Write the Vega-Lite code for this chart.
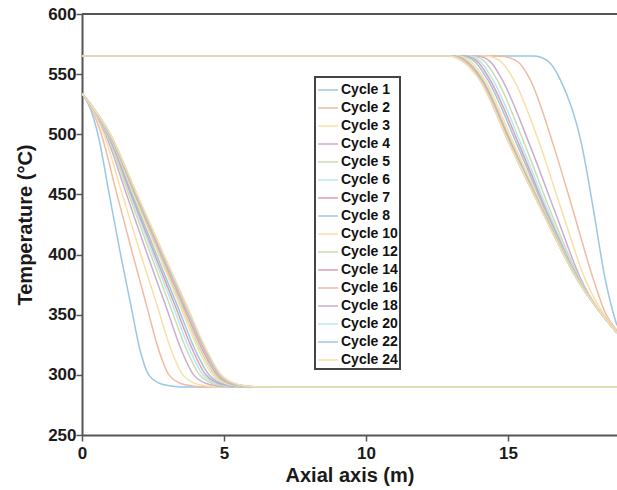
{
  "$schema": "https://vega.github.io/schema/vega-lite/v6.json",
  "width": 535,
  "height": 421,
  "autosize": {"type": "none"},
  "padding": {"left": 82, "top": 14, "right": 0, "bottom": 55},
  "background": "white",
  "config": {
    "view": {"stroke": null},
    "font": "Liberation Sans",
    "axis": {
      "grid": false,
      "domainColor": "#555555",
      "domainWidth": 2,
      "ticks": true,
      "tickColor": "#555555",
      "tickWidth": 1.5,
      "tickSize": 6,
      "labelFlush": false,
      "labelOverlap": false,
      "labelFont": "Liberation Sans",
      "labelFontWeight": "bold",
      "labelFontSize": 17,
      "labelColor": "#1a1a1a",
      "titleFont": "Liberation Sans",
      "titleFontWeight": "bold",
      "titleFontSize": 20,
      "titleColor": "#1a1a1a"
    },
    "legend": {"strokeWidth": 2}
  },
  "datasets": {
    "curves": [
      {"c":"Cycle 1","s":"d","x":0,"y":534},{"c":"Cycle 1","s":"d","x":0.3,"y":521},{"c":"Cycle 1","s":"d","x":0.56,"y":500},{"c":"Cycle 1","s":"d","x":0.96,"y":450},{"c":"Cycle 1","s":"d","x":1.36,"y":400},{"c":"Cycle 1","s":"d","x":1.72,"y":358},{"c":"Cycle 1","s":"d","x":2.05,"y":320},{"c":"Cycle 1","s":"d","x":2.35,"y":300},{"c":"Cycle 1","s":"d","x":2.85,"y":292},{"c":"Cycle 1","s":"d","x":3.5,"y":290},{"c":"Cycle 1","s":"d","x":18.84,"y":290},
      {"c":"Cycle 1","s":"c","x":0,"y":565},{"c":"Cycle 1","s":"c","x":15.9,"y":565},{"c":"Cycle 1","s":"c","x":16.4,"y":561},{"c":"Cycle 1","s":"c","x":16.83,"y":546},{"c":"Cycle 1","s":"c","x":17.6,"y":491},{"c":"Cycle 1","s":"c","x":18.02,"y":436},{"c":"Cycle 1","s":"c","x":18.42,"y":380},{"c":"Cycle 1","s":"c","x":18.7,"y":352},{"c":"Cycle 1","s":"c","x":18.84,"y":341},
      {"c":"Cycle 2","s":"d","x":0,"y":534},{"c":"Cycle 2","s":"d","x":0.3,"y":523},{"c":"Cycle 2","s":"d","x":0.68,"y":500},{"c":"Cycle 2","s":"d","x":1.23,"y":450},{"c":"Cycle 2","s":"d","x":1.79,"y":400},{"c":"Cycle 2","s":"d","x":2.27,"y":358},{"c":"Cycle 2","s":"d","x":2.71,"y":320},{"c":"Cycle 2","s":"d","x":3.06,"y":300},{"c":"Cycle 2","s":"d","x":3.59,"y":292},{"c":"Cycle 2","s":"d","x":4.26,"y":290},{"c":"Cycle 2","s":"d","x":18.84,"y":290},
      {"c":"Cycle 2","s":"c","x":0,"y":565},{"c":"Cycle 2","s":"c","x":14.7,"y":565},{"c":"Cycle 2","s":"c","x":15.3,"y":561},{"c":"Cycle 2","s":"c","x":15.77,"y":546},{"c":"Cycle 2","s":"c","x":16.6,"y":491},{"c":"Cycle 2","s":"c","x":17.3,"y":436},{"c":"Cycle 2","s":"c","x":18.0,"y":380},{"c":"Cycle 2","s":"c","x":18.42,"y":352},{"c":"Cycle 2","s":"c","x":18.84,"y":337},
      {"c":"Cycle 3","s":"d","x":0,"y":534},{"c":"Cycle 3","s":"d","x":0.3,"y":524},{"c":"Cycle 3","s":"d","x":0.77,"y":500},{"c":"Cycle 3","s":"d","x":1.42,"y":450},{"c":"Cycle 3","s":"d","x":2.07,"y":400},{"c":"Cycle 3","s":"d","x":2.64,"y":358},{"c":"Cycle 3","s":"d","x":3.15,"y":320},{"c":"Cycle 3","s":"d","x":3.55,"y":300},{"c":"Cycle 3","s":"d","x":4.1,"y":292},{"c":"Cycle 3","s":"d","x":4.77,"y":290},{"c":"Cycle 3","s":"d","x":18.84,"y":290},
      {"c":"Cycle 3","s":"c","x":0,"y":565},{"c":"Cycle 3","s":"c","x":14.2,"y":565},{"c":"Cycle 3","s":"c","x":14.72,"y":561},{"c":"Cycle 3","s":"c","x":15.19,"y":546},{"c":"Cycle 3","s":"c","x":16.13,"y":491},{"c":"Cycle 3","s":"c","x":16.9,"y":436},{"c":"Cycle 3","s":"c","x":17.71,"y":380},{"c":"Cycle 3","s":"c","x":18.84,"y":336},
      {"c":"Cycle 4","s":"d","x":0,"y":534},{"c":"Cycle 4","s":"d","x":0.3,"y":525},{"c":"Cycle 4","s":"d","x":0.83,"y":500},{"c":"Cycle 4","s":"d","x":1.57,"y":450},{"c":"Cycle 4","s":"d","x":2.3,"y":400},{"c":"Cycle 4","s":"d","x":2.94,"y":358},{"c":"Cycle 4","s":"d","x":3.51,"y":320},{"c":"Cycle 4","s":"d","x":3.93,"y":300},{"c":"Cycle 4","s":"d","x":4.49,"y":292},{"c":"Cycle 4","s":"d","x":5.17,"y":290},{"c":"Cycle 4","s":"d","x":18.84,"y":290},
      {"c":"Cycle 4","s":"c","x":0,"y":565},{"c":"Cycle 4","s":"c","x":13.9,"y":565},{"c":"Cycle 4","s":"c","x":14.35,"y":561},{"c":"Cycle 4","s":"c","x":14.78,"y":546},{"c":"Cycle 4","s":"c","x":15.77,"y":491},{"c":"Cycle 4","s":"c","x":16.65,"y":436},{"c":"Cycle 4","s":"c","x":17.56,"y":380},{"c":"Cycle 4","s":"c","x":18.84,"y":335},
      {"c":"Cycle 5","s":"d","x":0,"y":534},{"c":"Cycle 5","s":"d","x":0.3,"y":525},{"c":"Cycle 5","s":"d","x":0.87,"y":500},{"c":"Cycle 5","s":"d","x":1.65,"y":450},{"c":"Cycle 5","s":"d","x":2.42,"y":400},{"c":"Cycle 5","s":"d","x":3.09,"y":358},{"c":"Cycle 5","s":"d","x":3.7,"y":320},{"c":"Cycle 5","s":"d","x":4.14,"y":300},{"c":"Cycle 5","s":"d","x":4.71,"y":292},{"c":"Cycle 5","s":"d","x":5.39,"y":290},{"c":"Cycle 5","s":"d","x":18.84,"y":290},
      {"c":"Cycle 5","s":"c","x":0,"y":565},{"c":"Cycle 5","s":"c","x":13.7,"y":565},{"c":"Cycle 5","s":"c","x":14.15,"y":561},{"c":"Cycle 5","s":"c","x":14.6,"y":546},{"c":"Cycle 5","s":"c","x":15.6,"y":491},{"c":"Cycle 5","s":"c","x":16.5,"y":436},{"c":"Cycle 5","s":"c","x":17.52,"y":380},{"c":"Cycle 5","s":"c","x":18.84,"y":335},
      {"c":"Cycle 6","s":"d","x":0,"y":534},{"c":"Cycle 6","s":"d","x":0.3,"y":525},{"c":"Cycle 6","s":"d","x":0.89,"y":500},{"c":"Cycle 6","s":"d","x":1.7,"y":450},{"c":"Cycle 6","s":"d","x":2.5,"y":400},{"c":"Cycle 6","s":"d","x":3.19,"y":358},{"c":"Cycle 6","s":"d","x":3.81,"y":320},{"c":"Cycle 6","s":"d","x":4.26,"y":300},{"c":"Cycle 6","s":"d","x":4.84,"y":292},{"c":"Cycle 6","s":"d","x":5.53,"y":290},{"c":"Cycle 6","s":"d","x":18.84,"y":290},
      {"c":"Cycle 6","s":"c","x":0,"y":565},{"c":"Cycle 6","s":"c","x":13.55,"y":565},{"c":"Cycle 6","s":"c","x":14.0,"y":561},{"c":"Cycle 6","s":"c","x":14.45,"y":546},{"c":"Cycle 6","s":"c","x":15.48,"y":491},{"c":"Cycle 6","s":"c","x":16.42,"y":436},{"c":"Cycle 6","s":"c","x":17.49,"y":380},{"c":"Cycle 6","s":"c","x":18.84,"y":335},
      {"c":"Cycle 7","s":"d","x":0,"y":534},{"c":"Cycle 7","s":"d","x":0.3,"y":525},{"c":"Cycle 7","s":"d","x":0.91,"y":500},{"c":"Cycle 7","s":"d","x":1.73,"y":450},{"c":"Cycle 7","s":"d","x":2.56,"y":400},{"c":"Cycle 7","s":"d","x":3.27,"y":358},{"c":"Cycle 7","s":"d","x":3.91,"y":320},{"c":"Cycle 7","s":"d","x":4.36,"y":300},{"c":"Cycle 7","s":"d","x":4.94,"y":292},{"c":"Cycle 7","s":"d","x":5.63,"y":290},{"c":"Cycle 7","s":"d","x":18.84,"y":290},
      {"c":"Cycle 7","s":"c","x":0,"y":565},{"c":"Cycle 7","s":"c","x":13.45,"y":565},{"c":"Cycle 7","s":"c","x":13.9,"y":561},{"c":"Cycle 7","s":"c","x":14.35,"y":546},{"c":"Cycle 7","s":"c","x":15.4,"y":491},{"c":"Cycle 7","s":"c","x":16.36,"y":436},{"c":"Cycle 7","s":"c","x":17.47,"y":380},{"c":"Cycle 7","s":"c","x":18.84,"y":335},
      {"c":"Cycle 8","s":"d","x":0,"y":534},{"c":"Cycle 8","s":"d","x":0.3,"y":525},{"c":"Cycle 8","s":"d","x":0.93,"y":500},{"c":"Cycle 8","s":"d","x":1.77,"y":450},{"c":"Cycle 8","s":"d","x":2.62,"y":400},{"c":"Cycle 8","s":"d","x":3.35,"y":358},{"c":"Cycle 8","s":"d","x":4.0,"y":320},{"c":"Cycle 8","s":"d","x":4.47,"y":300},{"c":"Cycle 8","s":"d","x":5.05,"y":292},{"c":"Cycle 8","s":"d","x":5.74,"y":290},{"c":"Cycle 8","s":"d","x":18.84,"y":290},
      {"c":"Cycle 8","s":"c","x":0,"y":565},{"c":"Cycle 8","s":"c","x":13.35,"y":565},{"c":"Cycle 8","s":"c","x":13.8,"y":561},{"c":"Cycle 8","s":"c","x":14.27,"y":546},{"c":"Cycle 8","s":"c","x":15.33,"y":491},{"c":"Cycle 8","s":"c","x":16.32,"y":436},{"c":"Cycle 8","s":"c","x":17.46,"y":380},{"c":"Cycle 8","s":"c","x":18.84,"y":335},
      {"c":"Cycle 10","s":"d","x":0,"y":534},{"c":"Cycle 10","s":"d","x":0.3,"y":525},{"c":"Cycle 10","s":"d","x":0.95,"y":500},{"c":"Cycle 10","s":"d","x":1.82,"y":450},{"c":"Cycle 10","s":"d","x":2.7,"y":400},{"c":"Cycle 10","s":"d","x":3.44,"y":358},{"c":"Cycle 10","s":"d","x":4.12,"y":320},{"c":"Cycle 10","s":"d","x":4.59,"y":300},{"c":"Cycle 10","s":"d","x":5.18,"y":292},{"c":"Cycle 10","s":"d","x":5.88,"y":290},{"c":"Cycle 10","s":"d","x":18.84,"y":290},
      {"c":"Cycle 10","s":"c","x":0,"y":565},{"c":"Cycle 10","s":"c","x":13.22,"y":565},{"c":"Cycle 10","s":"c","x":13.67,"y":561},{"c":"Cycle 10","s":"c","x":14.17,"y":546},{"c":"Cycle 10","s":"c","x":15.23,"y":491},{"c":"Cycle 10","s":"c","x":16.28,"y":436},{"c":"Cycle 10","s":"c","x":17.45,"y":380},{"c":"Cycle 10","s":"c","x":18.84,"y":335},
      {"c":"Cycle 12","s":"d","x":0,"y":534},{"c":"Cycle 12","s":"d","x":0.3,"y":525},{"c":"Cycle 12","s":"d","x":0.96,"y":500},{"c":"Cycle 12","s":"d","x":1.85,"y":450},{"c":"Cycle 12","s":"d","x":2.74,"y":400},{"c":"Cycle 12","s":"d","x":3.5,"y":358},{"c":"Cycle 12","s":"d","x":4.19,"y":320},{"c":"Cycle 12","s":"d","x":4.67,"y":300},{"c":"Cycle 12","s":"d","x":5.26,"y":292},{"c":"Cycle 12","s":"d","x":5.96,"y":290},{"c":"Cycle 12","s":"d","x":18.84,"y":290},
      {"c":"Cycle 12","s":"c","x":0,"y":565},{"c":"Cycle 12","s":"c","x":13.12,"y":565},{"c":"Cycle 12","s":"c","x":13.57,"y":561},{"c":"Cycle 12","s":"c","x":14.1,"y":546},{"c":"Cycle 12","s":"c","x":15.17,"y":491},{"c":"Cycle 12","s":"c","x":16.26,"y":436},{"c":"Cycle 12","s":"c","x":17.44,"y":380},{"c":"Cycle 12","s":"c","x":18.84,"y":335},
      {"c":"Cycle 14","s":"d","x":0,"y":534},{"c":"Cycle 14","s":"d","x":0.3,"y":525},{"c":"Cycle 14","s":"d","x":0.97,"y":500},{"c":"Cycle 14","s":"d","x":1.88,"y":450},{"c":"Cycle 14","s":"d","x":2.79,"y":400},{"c":"Cycle 14","s":"d","x":3.56,"y":358},{"c":"Cycle 14","s":"d","x":4.26,"y":320},{"c":"Cycle 14","s":"d","x":4.75,"y":300},{"c":"Cycle 14","s":"d","x":5.34,"y":292},{"c":"Cycle 14","s":"d","x":6.04,"y":290},{"c":"Cycle 14","s":"d","x":18.84,"y":290},
      {"c":"Cycle 14","s":"c","x":0,"y":565},{"c":"Cycle 14","s":"c","x":13.05,"y":565},{"c":"Cycle 14","s":"c","x":13.5,"y":561},{"c":"Cycle 14","s":"c","x":14.06,"y":546},{"c":"Cycle 14","s":"c","x":15.13,"y":491},{"c":"Cycle 14","s":"c","x":16.24,"y":436},{"c":"Cycle 14","s":"c","x":17.43,"y":380},{"c":"Cycle 14","s":"c","x":18.84,"y":335},
      {"c":"Cycle 16","s":"d","x":0,"y":534},{"c":"Cycle 16","s":"d","x":0.3,"y":525},{"c":"Cycle 16","s":"d","x":0.98,"y":500},{"c":"Cycle 16","s":"d","x":1.9,"y":450},{"c":"Cycle 16","s":"d","x":2.82,"y":400},{"c":"Cycle 16","s":"d","x":3.6,"y":358},{"c":"Cycle 16","s":"d","x":4.31,"y":320},{"c":"Cycle 16","s":"d","x":4.8,"y":300},{"c":"Cycle 16","s":"d","x":5.39,"y":292},{"c":"Cycle 16","s":"d","x":6.09,"y":290},{"c":"Cycle 16","s":"d","x":18.84,"y":290},
      {"c":"Cycle 16","s":"c","x":0,"y":565},{"c":"Cycle 16","s":"c","x":13.0,"y":565},{"c":"Cycle 16","s":"c","x":13.46,"y":561},{"c":"Cycle 16","s":"c","x":14.03,"y":546},{"c":"Cycle 16","s":"c","x":15.1,"y":491},{"c":"Cycle 16","s":"c","x":16.23,"y":436},{"c":"Cycle 16","s":"c","x":17.43,"y":380},{"c":"Cycle 16","s":"c","x":18.84,"y":335},
      {"c":"Cycle 18","s":"d","x":0,"y":534},{"c":"Cycle 18","s":"d","x":0.3,"y":525},{"c":"Cycle 18","s":"d","x":0.99,"y":500},{"c":"Cycle 18","s":"d","x":1.92,"y":450},{"c":"Cycle 18","s":"d","x":2.84,"y":400},{"c":"Cycle 18","s":"d","x":3.63,"y":358},{"c":"Cycle 18","s":"d","x":4.34,"y":320},{"c":"Cycle 18","s":"d","x":4.84,"y":300},{"c":"Cycle 18","s":"d","x":5.43,"y":292},{"c":"Cycle 18","s":"d","x":6.13,"y":290},{"c":"Cycle 18","s":"d","x":18.84,"y":290},
      {"c":"Cycle 18","s":"c","x":0,"y":565},{"c":"Cycle 18","s":"c","x":12.96,"y":565},{"c":"Cycle 18","s":"c","x":13.43,"y":561},{"c":"Cycle 18","s":"c","x":14.01,"y":546},{"c":"Cycle 18","s":"c","x":15.09,"y":491},{"c":"Cycle 18","s":"c","x":16.22,"y":436},{"c":"Cycle 18","s":"c","x":17.42,"y":380},{"c":"Cycle 18","s":"c","x":18.84,"y":335},
      {"c":"Cycle 20","s":"d","x":0,"y":534},{"c":"Cycle 20","s":"d","x":0.3,"y":525},{"c":"Cycle 20","s":"d","x":0.99,"y":500},{"c":"Cycle 20","s":"d","x":1.93,"y":450},{"c":"Cycle 20","s":"d","x":2.86,"y":400},{"c":"Cycle 20","s":"d","x":3.65,"y":358},{"c":"Cycle 20","s":"d","x":4.37,"y":320},{"c":"Cycle 20","s":"d","x":4.86,"y":300},{"c":"Cycle 20","s":"d","x":5.46,"y":292},{"c":"Cycle 20","s":"d","x":6.16,"y":290},{"c":"Cycle 20","s":"d","x":18.84,"y":290},
      {"c":"Cycle 20","s":"c","x":0,"y":565},{"c":"Cycle 20","s":"c","x":12.93,"y":565},{"c":"Cycle 20","s":"c","x":13.41,"y":561},{"c":"Cycle 20","s":"c","x":14.0,"y":546},{"c":"Cycle 20","s":"c","x":15.08,"y":491},{"c":"Cycle 20","s":"c","x":16.21,"y":436},{"c":"Cycle 20","s":"c","x":17.42,"y":380},{"c":"Cycle 20","s":"c","x":18.84,"y":335},
      {"c":"Cycle 22","s":"d","x":0,"y":534},{"c":"Cycle 22","s":"d","x":0.3,"y":525},{"c":"Cycle 22","s":"d","x":1.0,"y":500},{"c":"Cycle 22","s":"d","x":1.93,"y":450},{"c":"Cycle 22","s":"d","x":2.87,"y":400},{"c":"Cycle 22","s":"d","x":3.67,"y":358},{"c":"Cycle 22","s":"d","x":4.38,"y":320},{"c":"Cycle 22","s":"d","x":4.88,"y":300},{"c":"Cycle 22","s":"d","x":5.48,"y":292},{"c":"Cycle 22","s":"d","x":6.18,"y":290},{"c":"Cycle 22","s":"d","x":18.84,"y":290},
      {"c":"Cycle 22","s":"c","x":0,"y":565},{"c":"Cycle 22","s":"c","x":12.91,"y":565},{"c":"Cycle 22","s":"c","x":13.39,"y":561},{"c":"Cycle 22","s":"c","x":13.99,"y":546},{"c":"Cycle 22","s":"c","x":15.07,"y":491},{"c":"Cycle 22","s":"c","x":16.2,"y":436},{"c":"Cycle 22","s":"c","x":17.42,"y":380},{"c":"Cycle 22","s":"c","x":18.84,"y":335},
      {"c":"Cycle 24","s":"d","x":0,"y":534},{"c":"Cycle 24","s":"d","x":0.3,"y":525},{"c":"Cycle 24","s":"d","x":1.0,"y":500},{"c":"Cycle 24","s":"d","x":1.94,"y":450},{"c":"Cycle 24","s":"d","x":2.88,"y":400},{"c":"Cycle 24","s":"d","x":3.68,"y":358},{"c":"Cycle 24","s":"d","x":4.4,"y":320},{"c":"Cycle 24","s":"d","x":4.9,"y":300},{"c":"Cycle 24","s":"d","x":5.5,"y":292},{"c":"Cycle 24","s":"d","x":6.2,"y":290},{"c":"Cycle 24","s":"d","x":18.84,"y":290},
      {"c":"Cycle 24","s":"c","x":0,"y":565},{"c":"Cycle 24","s":"c","x":12.9,"y":565},{"c":"Cycle 24","s":"c","x":13.38,"y":561},{"c":"Cycle 24","s":"c","x":13.98,"y":546},{"c":"Cycle 24","s":"c","x":15.07,"y":491},{"c":"Cycle 24","s":"c","x":16.2,"y":436},{"c":"Cycle 24","s":"c","x":17.42,"y":380},{"c":"Cycle 24","s":"c","x":18.84,"y":335}
    ]
  },
  "layer": [
    {
      "data": {"name": "curves"},
      "mark": {"type": "line", "interpolate": "monotone", "strokeWidth": 1.5, "clip": true},
      "encoding": {
        "x": {
          "field": "x", "type": "quantitative",
          "scale": {"domain": [0, 18.84], "nice": false, "zero": false},
          "axis": {
            "values": [0, 5, 10, 15], "title": "Axial axis (m)",
            "labelPadding": 4, "titlePadding": 4,
            "encode": {"ticks": {"update": {"y2": {"value": -6}}}}
          }
        },
        "y": {
          "field": "y", "type": "quantitative",
          "scale": {"domain": [250, 600], "nice": false, "zero": false},
          "axis": {
            "values": [250, 300, 350, 400, 450, 500, 550, 600], "title": "Temperature (°C)",
            "labelPadding": 0, "titlePadding": 12,
            "encode": {"ticks": {"update": {"x2": {"value": 6}}}}
          }
        },
        "color": {
          "field": "c", "type": "nominal",
          "scale": {
            "domain": ["Cycle 1","Cycle 2","Cycle 3","Cycle 4","Cycle 5","Cycle 6","Cycle 7","Cycle 8","Cycle 10","Cycle 12","Cycle 14","Cycle 16","Cycle 18","Cycle 20","Cycle 22","Cycle 24"],
            "range": ["#99c7e5","#f0baa3","#f8e0a6","#cbacd2","#c9deac","#b8e5f8","#daa1ac","#99c7e5","#f8e0a6","#c9deac","#daa1ac","#f0baa3","#cbacd2","#b8e5f8","#99c7e5","#f8e0a6"]
          },
          "legend": {
            "orient": "none", "legendX": 233, "legendY": 63, "title": null,
            "symbolType": "stroke", "symbolSize": 400, "symbolStrokeWidth": 1.5,
            "labelFont": "Liberation Sans", "labelFontWeight": "bold", "labelFontSize": 14, "labelColor": "#111111",
            "strokeColor": "#444444", "fillColor": "white", "padding": 2, "rowPadding": -2, "labelOffset": 2
          }
        },
        "detail": {"field": "s"}
      }
    },
    {
      "data": {"values": [{}]},
      "mark": {"type": "rule", "color": "#555555", "strokeWidth": 2},
      "encoding": {"y": {"datum": 600}}
    }
  ]
}
